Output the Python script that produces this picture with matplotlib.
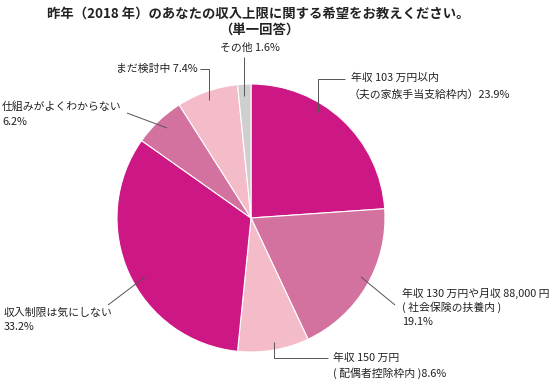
import matplotlib
matplotlib.use("Agg")
import matplotlib.pyplot as plt

plt.rcParams['font.family'] = ['Noto Sans CJK JP', 'DejaVu Sans']

# data
categories = ["年収 103 万円以内（夫の家族手当支給枠内）",
              "年収 130 万円や月収 88,000 円 ( 社会保険の扶養内 )",
              "年収 150 万円 ( 配偶者控除枠内 )",
              "収入制限は気にしない",
              "仕組みがよくわからない",
              "まだ検討中",
              "その他"]
values = [23.9, 19.1, 8.6, 33.2, 6.2, 7.4, 1.6]
colors = ["#CC1784", "#D3729F", "#F4BBC9", "#CC1784", "#D3729F", "#F4BBC9", "#CFCFCF"]

W, H = 554, 383
fy = lambda y: H - y  # pixel coords from top

fig = plt.figure(figsize=(W / 100, H / 100), dpi=100)
ax = fig.add_axes([0, 0, 1, 1])

ax.pie(values, colors=colors, startangle=90, counterclock=False,
       center=(251, fy(218)), radius=134, frame=True,
       wedgeprops=dict(edgecolor='white', linewidth=0.8))
ax.set_xlim(0, W)
ax.set_ylim(0, H)
ax.set_aspect('equal')
ax.axis('off')

# title
ax.text(258, fy(14), "昨年（2018 年）のあなたの収入上限に関する希望をお教えください。",
        ha='center', va='center', fontsize=9.6, fontweight='bold', color='#222222')
ax.text(259, fy(30), "（単一回答）",
        ha='center', va='center', fontsize=9.6, fontweight='bold', color='#222222')

lc = '#555555'
lw = 0.7
fs = 7.8
tc = '#222222'

def line(xs, ys):
    ax.plot(xs, [fy(y) for y in ys], color=lc, lw=lw, solid_capstyle='butt')

def label(x, y, s, ha='left'):
    ax.text(x, fy(y), s, ha=ha, va='center', fontsize=fs, color=tc)

# 23.9
line([318, 318, 345], [112, 79, 79])
label(351, 78, "年収 103 万円以内")
label(349, 94, f"（夫の家族手当支給枠内）{values[0]}%")

# 19.1
line([361, 395], [277, 305])
label(402, 293, "年収 130 万円や月収 88,000 円")
label(402, 307, "( 社会保険の扶養内 )")
label(402, 322, f"{values[1]}%")

# 8.6
line([274, 274, 328], [342, 358, 358])
label(333, 358, "年収 150 万円")
label(333, 373, f"( 配偶者控除枠内 ){values[2]}%")

# 33.2
line([108, 145], [305, 277])
label(4, 313, "収入制限は気にしない")
label(4, 327, f"{values[3]}%")

# 6.2
line([127, 167], [113, 128])
label(2, 107, "仕組みがよくわからない")
label(2, 122, f"{values[4]}%")

# 7.4
line([200, 209, 209], [69, 69, 100])
label(198, 69, f"まだ検討中 {values[5]}%", ha='right')

# 1.6
line([244, 244], [57, 96])
label(250, 48, f"その他 {values[6]}%", ha='center')

fig.savefig("out.png", dpi=100)
